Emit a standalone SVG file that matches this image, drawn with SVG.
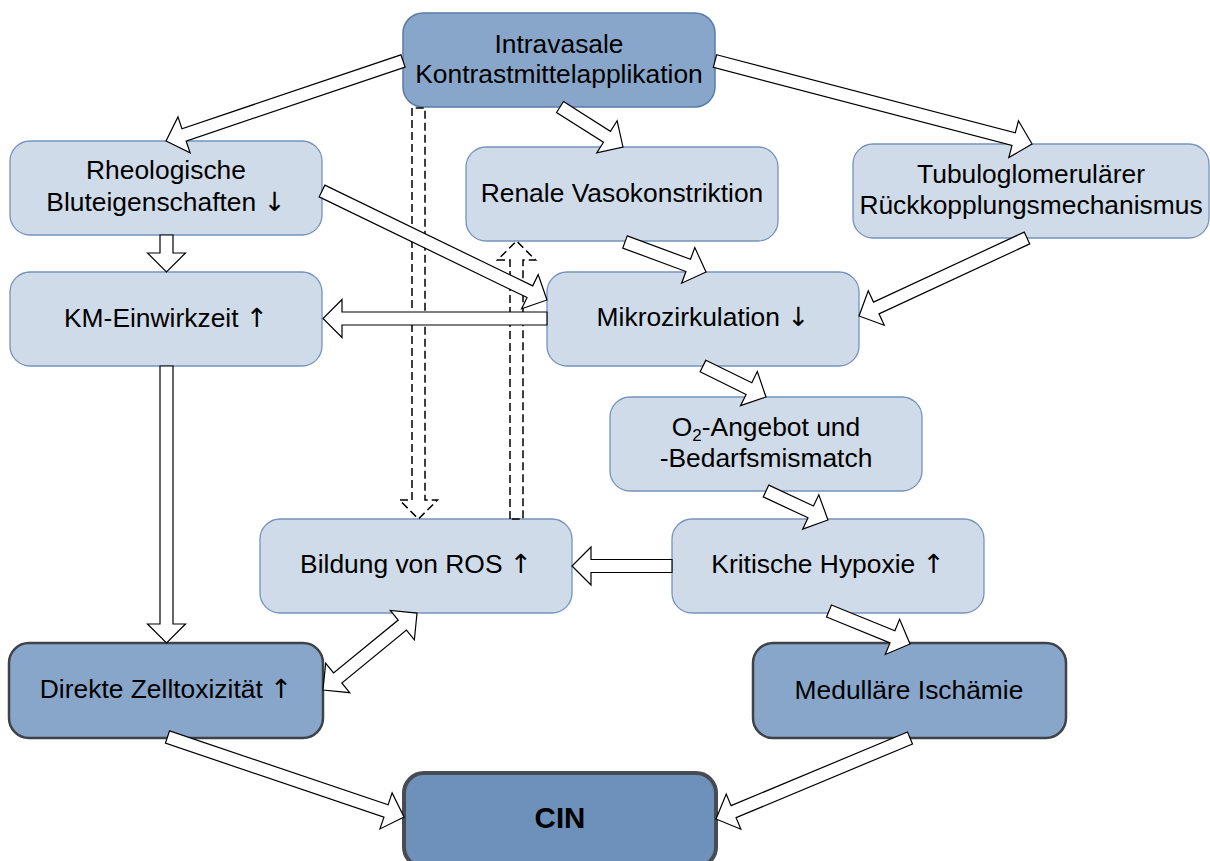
<svg xmlns="http://www.w3.org/2000/svg" width="1210" height="861" viewBox="0 0 1210 861">
<style>
.n rect{stroke-width:1.3}
.light rect{fill:#cfdbe8;stroke:#7592bd}
.top rect{fill:#88a6ca;stroke:#5b7aa6;stroke-width:1.5}
.dark rect{fill:#88a6ca;stroke:#3f4247;stroke-width:2.5}
.cin rect{fill:#6e91bb;stroke:#474b52;stroke-width:4}
text{font-family:"Liberation Sans",Arial,sans-serif;font-size:26.4px;fill:#000;text-anchor:middle}
.ar{font-family:"DejaVu Sans",sans-serif;font-weight:normal;fill:#000}
.b{font-weight:bold;font-size:29.5px}
.a{fill:#fff;stroke:#000;stroke-width:1.2;stroke-linejoin:miter}
.d{fill:none;stroke:#000;stroke-width:1.5;stroke-dasharray:8 4}
</style>
<rect width="1210" height="861" fill="#fff"/>
<g id="n-intravasale" class="n top"><rect x="403" y="13" width="312" height="94" rx="20"/><text x="559" y="53">Intravasale</text><text x="559" y="83">Kontrastmittelapplikation</text></g>
<g id="n-rheo" class="n light"><rect x="10" y="141" width="312" height="94" rx="20"/><text x="166" y="179">Rheologische</text><text x="166" y="211">Bluteigenschaften <tspan class="ar">↓</tspan></text></g>
<g id="n-renale" class="n light"><rect x="466" y="147" width="312" height="94" rx="20"/><text x="622" y="202">Renale Vasokonstriktion</text></g>
<g id="n-tubulo" class="n light"><rect x="853" y="144" width="356" height="94" rx="20"/><text x="1031" y="183">Tubuloglomerulärer</text><text x="1031" y="214">Rückkopplungsmechanismus</text></g>
<g id="n-km" class="n light"><rect x="10" y="272" width="312" height="94" rx="20"/><text x="166" y="327">KM-Einwirkzeit <tspan class="ar">↑</tspan></text></g>
<g id="n-mikro" class="n light"><rect x="547" y="272" width="312" height="94" rx="20"/><text x="703" y="326">Mikrozirkulation <tspan class="ar">↓</tspan></text></g>
<g id="n-o2" class="n light"><rect x="610" y="397" width="312" height="94" rx="20"/><text x="766" y="436">O<tspan font-size="17" dy="5">2</tspan><tspan dy="-5">-Angebot und</tspan></text><text x="766" y="467">-Bedarfsmismatch</text></g>
<g id="n-ros" class="n light"><rect x="260" y="519" width="312" height="94" rx="20"/><text x="416" y="573">Bildung von ROS <tspan class="ar">↑</tspan></text></g>
<g id="n-hypoxie" class="n light"><rect x="672" y="519" width="312" height="94" rx="20"/><text x="828" y="573">Kritische Hypoxie <tspan class="ar">↑</tspan></text></g>
<g id="n-direkte" class="n dark"><rect x="9" y="643" width="314" height="95" rx="20"/><text x="166" y="698">Direkte Zelltoxizität <tspan class="ar">↑</tspan></text></g>
<g id="n-medullaer" class="n dark"><rect x="753" y="643" width="313" height="95" rx="20"/><text x="909" y="699">Medulläre Ischämie</text></g>
<g id="n-cin" class="n cin"><rect x="404" y="773" width="312" height="94" rx="20"/><text class="b" x="560" y="828">CIN</text></g>
<g id="connectors">
<polygon class="d" points="412,108 412,500 399.5,500 418.5,519 437.5,500 425,500 425,108"/>
<polygon class="d" points="510,519 510,260 497.5,260 516.5,241 535.5,260 523,260 523,519"/>
<polygon class="a" transform="translate(403,61) rotate(161.35)" points="0,-6.5 231.1,-6.5 231.1,-19 250.1,0 231.1,19 231.1,6.5 0,6.5"/>
<polygon class="a" transform="translate(715,61) rotate(14.67)" points="0,-6.5 308.7,-6.5 308.7,-19 327.7,0 308.7,19 308.7,6.5 0,6.5"/>
<polygon class="a" transform="translate(560,107) rotate(32.4)" points="0,-6.5 55.6,-6.5 55.6,-19 74.6,0 55.6,19 55.6,6.5 0,6.5"/>
<polygon class="a" transform="translate(166.5,235) rotate(90)" points="0,-6.5 18,-6.5 18,-19 37,0 18,19 18,6.5 0,6.5"/>
<polygon class="a" transform="translate(322,191) rotate(25.85)" points="0,-6.5 231,-6.5 231,-19 250,0 231,19 231,6.5 0,6.5"/>
<polygon class="a" transform="translate(625,242) rotate(20.3)" points="0,-6.5 67.4,-6.5 67.4,-19 86.4,0 67.4,19 67.4,6.5 0,6.5"/>
<polygon class="a" transform="translate(1027,238) rotate(155.1)" points="0,-6.5 166.2,-6.5 166.2,-19 185.2,0 166.2,19 166.2,6.5 0,6.5"/>
<polygon class="a" transform="translate(547,318.5) rotate(180)" points="0,-6.5 205,-6.5 205,-19 224,0 205,19 205,6.5 0,6.5"/>
<polygon class="a" transform="translate(166.5,366) rotate(90)" points="0,-6.5 258,-6.5 258,-19 277,0 258,19 258,6.5 0,6.5"/>
<polygon class="a" transform="translate(703,366) rotate(26.2)" points="0,-6.5 51.2,-6.5 51.2,-19 70.2,0 51.2,19 51.2,6.5 0,6.5"/>
<polygon class="a" transform="translate(766,491) rotate(25.07)" points="0,-6.5 49.4,-6.5 49.4,-19 68.4,0 49.4,19 49.4,6.5 0,6.5"/>
<polygon class="a" transform="translate(672,566) rotate(180)" points="0,-6.5 81,-6.5 81,-19 100,0 81,19 81,6.5 0,6.5"/>
<polygon class="a" transform="translate(829,611) rotate(22.17)" points="0,-6.5 68.5,-6.5 68.5,-19 87.5,0 68.5,19 68.5,6.5 0,6.5"/>
<polygon class="a" transform="translate(323,690) rotate(-39.3)" points="0,0 19,-19 19,-6.5 102.5,-6.5 102.5,-19 121.5,0 102.5,19 102.5,6.5 19,6.5 19,19"/>
<polygon class="a" transform="translate(167.5,737) rotate(18.69)" points="0,-6.5 230.7,-6.5 230.7,-19 249.7,0 230.7,19 230.7,6.5 0,6.5"/>
<polygon class="a" transform="translate(910,738) rotate(157.34)" points="0,-6.5 191.2,-6.5 191.2,-19 210.2,0 191.2,19 191.2,6.5 0,6.5"/>
</g>
</svg>
